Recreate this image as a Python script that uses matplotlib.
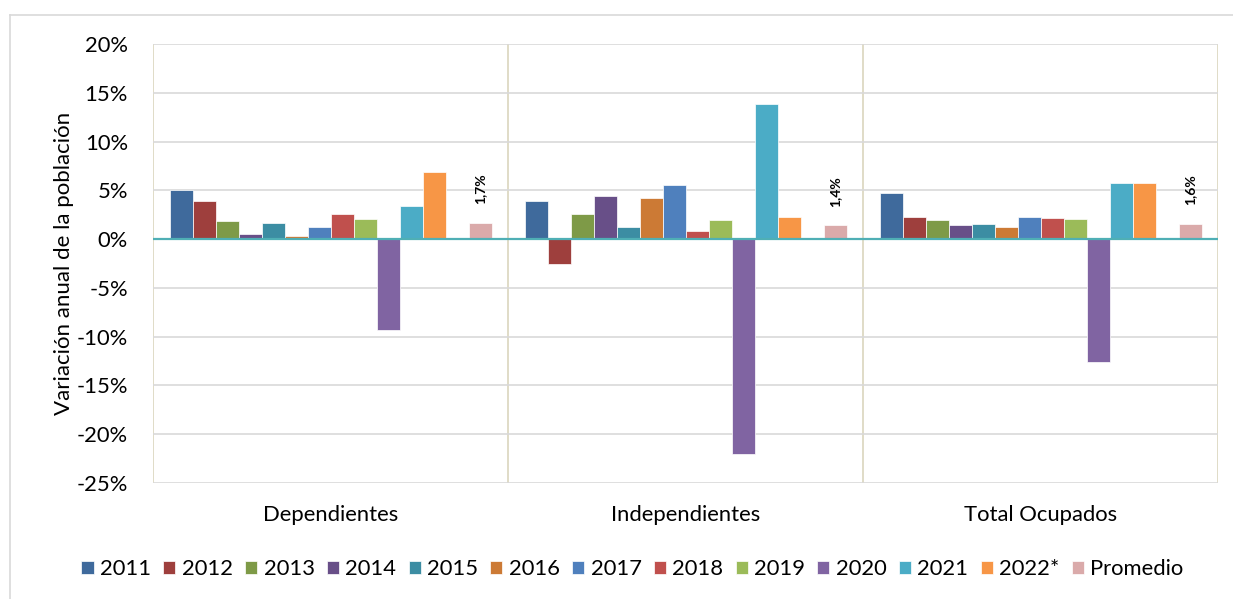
import numpy as np
import matplotlib.pyplot as plt
from matplotlib.lines import Line2D
from matplotlib.ticker import FuncFormatter

plt.rcParams['font.family'] = ['Lato', 'DejaVu Sans']

# categories and series
groups = ['Dependientes', 'Independientes', 'Total Ocupados']
series = ['2011', '2012', '2013', '2014', '2015', '2016', '2017', '2018',
          '2019', '2020', '2021', '2022*', 'Promedio']
colors = ['#3F6A9C', '#9E3F3D', '#7E9A47', '#684F88', '#3C8DA3', '#CC7A35',
          '#4F80BD', '#C0504D', '#9BBB59', '#8064A2', '#4BACC6', '#F79646',
          '#DAAAAA']

# annual variation (%) per series: [Dependientes, Independientes, Total Ocupados]
v2011 = [5.0, 3.9, 4.7]
v2012 = [3.9, -2.5, 2.3]
v2013 = [1.9, 2.6, 2.0]
v2014 = [0.5, 4.4, 1.4]
v2015 = [1.7, 1.2, 1.55]
v2016 = [0.3, 4.25, 1.25]
v2017 = [1.2, 5.55, 2.3]
v2018 = [2.6, 0.8, 2.15]
v2019 = [2.05, 2.0, 2.05]
v2020 = [-9.3, -22.0, -12.6]
v2021 = [3.35, 13.9, 5.75]
v2022 = [6.9, 2.25, 5.75]
promedio = [1.7, 1.4, 1.6]
promedio_labels = ['1,7%', '1,4%', '1,6%']

values = [v2011, v2012, v2013, v2014, v2015, v2016, v2017, v2018,
          v2019, v2020, v2021, v2022, promedio]
# slot inside each group (slot 12 is left empty, as in the original)
slots = list(range(12)) + [13]

fig = plt.figure(figsize=(12.33, 5.99), dpi=100)
ax = fig.add_axes([153/1233, 1-483/599, (1218-153)/1233, (483-44)/599])

w = 23/355
start = 16.5/355
x = np.arange(len(groups))
for name, vals, col, s in zip(series, values, colors, slots):
    xs = x - 0.5 + start + (s + 0.5)*w
    ax.bar(xs, vals, width=w, color=col, edgecolor='white', linewidth=0.5,
           label=name, zorder=3)
    if name == 'Promedio':
        for xi, v, lab in zip(xs, vals, promedio_labels):
            ax.annotate(lab, (xi, v), xytext=(0, 13), textcoords='offset points',
                        rotation=90, ha='center', va='bottom', fontsize=10,
                        fontweight='bold')

ax.set_xlim(-0.5, 2.5)
ax.set_ylim(-25, 20)
ax.set_yticks(np.arange(-25, 21, 5))
ax.yaxis.set_major_formatter(FuncFormatter(lambda v, p: f'{v:.0f}%'))
ax.set_xticks(x)
ax.set_xticklabels(groups)
ax.tick_params(axis='both', length=0, labelsize=15.8)
ax.tick_params(axis='x', pad=16)
ax.tick_params(axis='y', pad=18)
ax.grid(axis='y', color='#D9D9D9', linewidth=1.2, zorder=0)
for sp in ax.spines.values():
    sp.set_visible(False)
for xv in [-0.5, 0.5, 1.5, 2.5]:
    ax.axvline(xv, color='#DDD9C3', linewidth=1.3, zorder=1)
ax.axhline(0, color='#4FAFB5', linewidth=1.6, zorder=4)
ax.set_ylabel('Variación anual de la población', fontsize=16, labelpad=2)

# outer chart frame
fig.add_artist(Line2D([10/1233, 1], [1-15/599, 1-15/599], color='#D9D9D9', lw=1.2))
fig.add_artist(Line2D([10/1233, 10/1233], [0, 1-15/599], color='#D9D9D9', lw=1.2))

fig.legend(loc='center', bbox_to_anchor=(0.513, 0.05), ncol=13, frameon=False,
           fontsize=15.8, handlelength=0.55, handleheight=0.55, handletextpad=0.3,
           columnspacing=0.55, borderaxespad=0)

fig.savefig('out.png', dpi=100)
